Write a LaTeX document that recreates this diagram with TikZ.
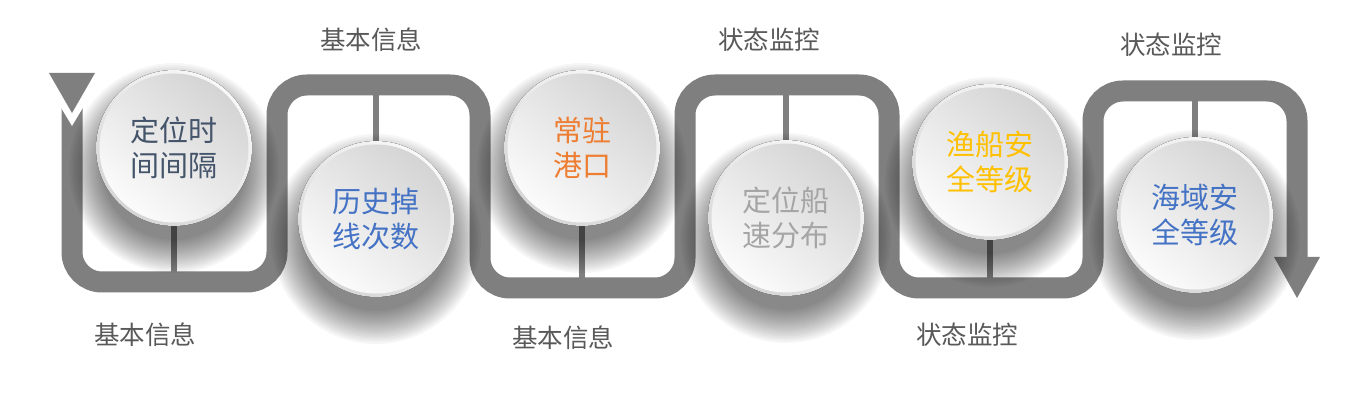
\documentclass[tikz,border=0pt]{standalone}
\usepackage{fontspec}
\newfontfamily\cjk{Noto Sans CJK SC}
\usetikzlibrary{calc}
\pgfdeclarelayer{bglayer}
\pgfdeclarelayer{bandlayer}
\pgfdeclarelayer{shadowlayer}
\pgfdeclarelayer{rimlayer}
\pgfsetlayers{bglayer,bandlayer,shadowlayer,rimlayer,main}
\definecolor{bandgray}{HTML}{7F7F7F}
\definecolor{txtdark}{HTML}{44546A}
\definecolor{txtblue}{HTML}{4472C4}
\definecolor{txtorange}{HTML}{ED7D31}
\definecolor{txtgray}{HTML}{A5A5A5}
\definecolor{txtgold}{HTML}{FFC000}
\definecolor{labelgray}{HTML}{595959}
\definecolor{discdark}{HTML}{D4D4D4}
\definecolor{discmid}{HTML}{EEEEEE}
\definecolor{discwhite}{HTML}{FBFBFB}
\definecolor{rimlight}{HTML}{F8F8F8}
\definecolor{rimdark}{HTML}{D6D6D6}
\tikzset{
  disc/.style={circle, minimum size=149pt, inner sep=0pt, shading=axis,
    top color=discdark, middle color=discmid, bottom color=discwhite, shading angle=-40,
    align=center, font=\cjk\fontsize{29}{35}\selectfont},
  labeltext/.style={font=\cjk\fontsize{25.5}{30}\selectfont, text=labelgray, inner sep=0pt},
  bandline/.style={draw=bandgray, line width=21pt, rounded corners=30pt},
  stubline/.style={draw=bandgray, line width=6pt},
  headfill/.style={fill=bandgray},
  rimfill/.style={shading=axis, top color=rimlight, bottom color=rimdark, shading angle=-40},
  shadowfill/.style={fill=black, opacity=0.034}
}
\begin{document}
\begin{tikzpicture}[x=1pt,y=1pt]
\useasboundingbox (0,0) rectangle (1354,403);
\begin{pgfonlayer}{bglayer}
\fill[white] (0,0) rectangle (1354,403);
\end{pgfonlayer}

% circles
\node[disc, text=txtdark]   (c1) at (174,255) {定位时\\间间隔};
\node[disc, text=txtblue]   (c2) at (376,184) {历史掉\\线次数};
\node[disc, text=txtorange] (c3) at (582,255) {常驻\\港口};
\node[disc, text=txtgray]   (c4) at (786,185) {定位船\\速分布};
\node[disc, text=txtgold]   (c5) at (990,241) {渔船安\\全等级};
\node[disc, text=txtblue]   (c6) at (1195,188) {海域安\\全等级};

% labels
\node[labeltext] (l1) at (145,68)  {基本信息};
\node[labeltext] (l2) at (371,363) {基本信息};
\node[labeltext] (l3) at (563,65)  {基本信息};
\node[labeltext] (l4) at (769,363) {状态监控};
\node[labeltext] (l5) at (967,68)  {状态监控};
\node[labeltext] (l6) at (1171,358) {状态监控};

% band coordinates
\coordinate (p0) at (72,296);
\coordinate (p1) at (72,121);
\coordinate (p2) at (277,121);
\coordinate (p3) at (277,318);
\coordinate (p4) at (480,318);
\coordinate (p5) at (480,115);
\coordinate (p6) at (685,115);
\coordinate (p7) at (685,318);
\coordinate (p8) at (889,318);
\coordinate (p9) at (889,115);
\coordinate (p10) at (1093,115);
\coordinate (p11) at (1093,312);
\coordinate (p12) at (1297,312);
\coordinate (p13) at (1297,146);
% arrow heads
\coordinate (ta) at (49,330);
\coordinate (tb) at (95,330);
\coordinate (tc) at (72,290);
\coordinate (na) at (60,297);
\coordinate (nb) at (84,297);
\coordinate (nc) at (72,277);
\coordinate (ha) at (1274,146);
\coordinate (hb) at (1320,146);
\coordinate (hc) at (1297,105);
% stub ends
\coordinate (s1) at (c1 |- p1);
\coordinate (s2) at (c2 |- p3);
\coordinate (s3) at (c3 |- p5);
\coordinate (s4) at (c4 |- p7);
\coordinate (s5) at (c5 |- p9);
\coordinate (s6) at (c6 |- p11);

\begin{pgfonlayer}{bandlayer}
  \draw[bandline] (p0) -- (p1) -- (p2) -- (p3) -- (p4) -- (p5) -- (p6)
     -- (p7) -- (p8) -- (p9) -- (p10) -- (p11) -- (p12) -- (p13);
  \fill[white] (na) -- (nb) -- (nc) -- cycle;
  \fill[headfill] (ta) -- (tb) -- (tc) -- cycle;
  \fill[headfill] (ha) -- (hb) -- (hc) -- cycle;
  \draw[stubline] (c1) -- (s1);
  \draw[stubline] (c2) -- (s2);
  \draw[stubline] (c3) -- (s3);
  \draw[stubline] (c4) -- (s4);
  \draw[stubline] (c5) -- (s5);
  \draw[stubline] (c6) -- (s6);
\end{pgfonlayer}

\begin{pgfonlayer}{shadowlayer}
  \foreach \c in {c1,c2,c3,c4,c5,c6}{
    \foreach \k in {0,...,15}{
      \fill[shadowfill] ($(\c.center)+(0,-20)$) circle ({72+2.2*\k});
    }
  }
\end{pgfonlayer}

\begin{pgfonlayer}{rimlayer}
  \foreach \c in {c1,c2,c3,c4,c5,c6}{
    \fill[rimfill] (\c.center) circle (78);
  }
\end{pgfonlayer}
\end{tikzpicture}
\end{document}
